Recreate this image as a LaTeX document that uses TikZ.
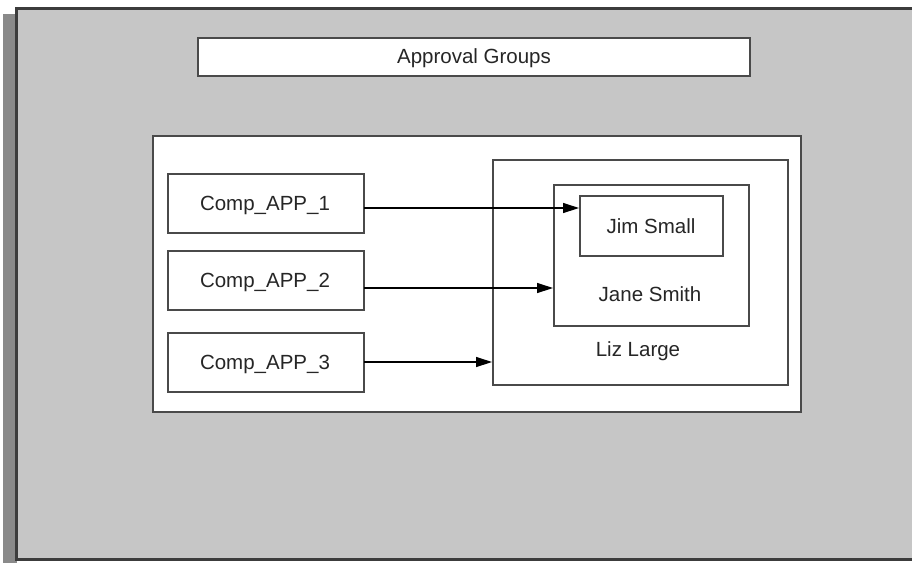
\documentclass[tikz,border=0pt]{standalone}
\usepackage{fontspec}
\setmainfont{Liberation Sans}
\usetikzlibrary{arrows.meta}
\definecolor{bgfill}{HTML}{C6C6C6}
\definecolor{shadowc}{HTML}{8A8A8A}
\definecolor{framec}{HTML}{3C3C3C}
\definecolor{boxline}{HTML}{4A4A4A}
\tikzset{
  box/.style={draw=boxline, line width=1.6pt, fill=white},
  plainbox/.style={draw=boxline, line width=1.6pt},
  lbl/.style={font=\fontsize{20.5}{24}\selectfont, text=black!85, inner sep=0pt},
  conn/.style={draw=black, line width=1.3pt, -{Triangle[length=16pt,width=10pt]}}
}
\begin{document}
\begin{tikzpicture}[x=1pt,y=-1pt]
\useasboundingbox (0,0) rectangle (912,563);
\clip (0,0) rectangle (912,563);
\fill[white] (0,0) rectangle (912,563);
% shadow and frame
\fill[shadowc] (3,14) rectangle (17,563);
\fill[bgfill] (16,8) rectangle (916,560);
\draw[framec, line width=2.2pt] (916,8.5) -- (16.5,8.5) -- (16.5,559.5) -- (916,559.5);
% title
\draw[box] (198,38) rectangle (750,76);
\node[lbl] (title) at (474,58) {Approval Groups};
% main white panel
\draw[box] (153,136) rectangle (801,412);
% source boxes
\draw[box] (168,174) rectangle (364,233);
\node[lbl] (c1) at (265,205.5) {Comp\_APP\_1};
\coordinate (c1e) at (364,208);
\draw[box] (168,251) rectangle (364,310);
\node[lbl] (c2) at (265,282.5) {Comp\_APP\_2};
\coordinate (c2e) at (364,288);
\draw[box] (168,333) rectangle (364,392);
\node[lbl] (c3) at (265,364.5) {Comp\_APP\_3};
\coordinate (c3e) at (364,362);
% nested target boxes
\draw[plainbox] (493,160) rectangle (788,385);
\node[lbl] (liz) at (638,351) {Liz Large};
\draw[plainbox] (554,185) rectangle (749,326);
\node[lbl] (jane) at (650,294) {Jane Smith};
\draw[plainbox] (580,196) rectangle (723,256);
\node[lbl] (jim) at (651,226) {Jim Small};
\coordinate (t1) at (579,208);
\coordinate (t2) at (553,288);
\coordinate (t3) at (492,362);
% connectors
\draw[conn] (c1e) -- (t1);
\draw[conn] (c2e) -- (t2);
\draw[conn] (c3e) -- (t3);
\end{tikzpicture}
\end{document}
